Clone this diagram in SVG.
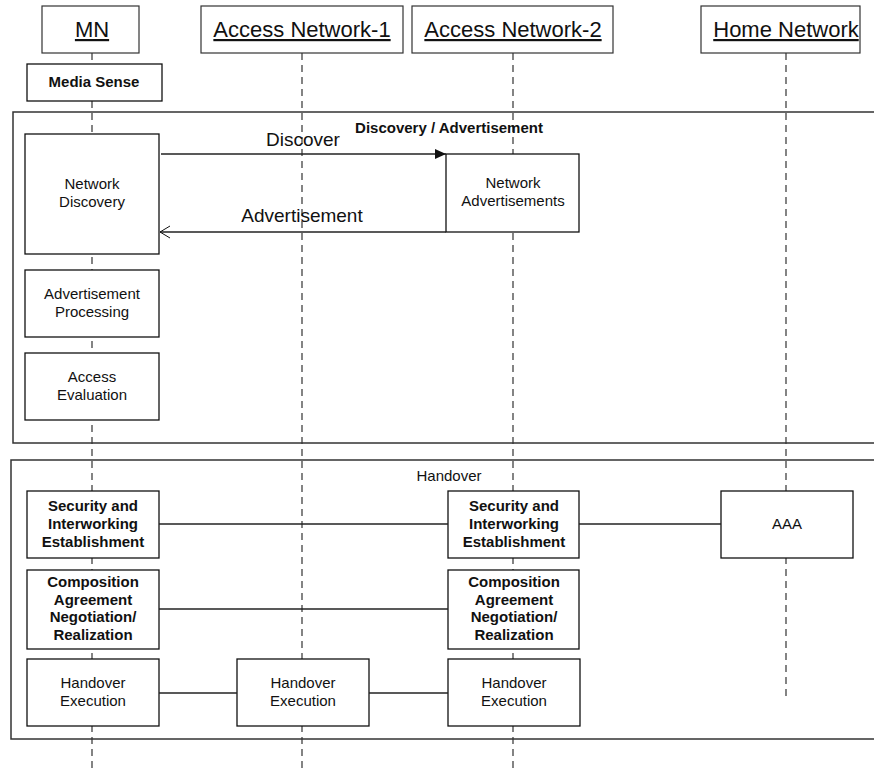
<svg xmlns="http://www.w3.org/2000/svg" width="874" height="772" viewBox="0 0 874 772">
  <defs>
    <style>
      .hdr { fill: #fff; stroke: #333; stroke-width: 1.2; }
      .box { fill: #fff; stroke: #111; stroke-width: 1.3; }
      .frame { fill: none; stroke: #333; stroke-width: 1.5; }
      .life { stroke: #333; stroke-width: 1.2; stroke-dasharray: 7 5; fill: none; }
      .link { stroke: #222; stroke-width: 1.3; fill: none; }
      text { font-family: "Liberation Sans", Arial, sans-serif; fill: #111; text-anchor: middle; }
      .ht { font-size: 22px; text-decoration: underline; }
      .t { font-size: 15px; }
      .b { font-size: 15px; font-weight: bold; }
      .msg { font-size: 19px; }
    </style>
    <marker id="solidHead" markerWidth="12" markerHeight="10" refX="11" refY="5" orient="auto" markerUnits="userSpaceOnUse">
      <path d="M0,0 L11,5 L0,10 Z" fill="#111"/>
    </marker>
    <marker id="openHead" markerWidth="12" markerHeight="14" refX="11" refY="7" orient="auto" markerUnits="userSpaceOnUse">
      <path d="M1,1 L11,7 L1,13" fill="none" stroke="#111" stroke-width="1"/>
    </marker>
  </defs>

  <rect width="874" height="772" fill="#fff"/>

  <!-- lifelines -->
  <g id="lifelines">
    <line class="life" x1="92" y1="53" x2="92" y2="772"/>
    <line class="life" x1="302" y1="53" x2="302" y2="772"/>
    <line class="life" x1="513" y1="53" x2="513" y2="772"/>
    <line class="life" x1="786" y1="53" x2="786" y2="697"/>
  </g>

  <!-- phase frames -->
  <g id="frame-discovery">
    <rect class="frame" x="13" y="112" width="880" height="331"/>
    <text class="b" x="449" y="133">Discovery / Advertisement</text>
  </g>
  <g id="frame-handover">
    <rect class="frame" x="11" y="460" width="880" height="279"/>
    <text class="t" x="449" y="481">Handover</text>
  </g>

  <!-- participants -->
  <g id="hdr-mn">
    <rect class="hdr" x="42" y="6" width="97" height="47"/>
    <text class="ht" x="92" y="37">MN</text>
  </g>
  <g id="hdr-an1">
    <rect class="hdr" x="201" y="6" width="202" height="47"/>
    <text class="ht" x="302" y="37">Access Network-1</text>
  </g>
  <g id="hdr-an2">
    <rect class="hdr" x="412" y="6" width="201" height="47"/>
    <text class="ht" x="513" y="37">Access Network-2</text>
  </g>
  <g id="hdr-home">
    <rect class="hdr" x="701" y="6" width="159" height="47"/>
    <text class="ht" x="786" y="37">Home Network</text>
  </g>

  <!-- MN activities -->
  <g id="media-sense">
    <rect class="box" x="27" y="64" width="135" height="37"/>
    <text class="b" x="94" y="87" font-size="14">Media Sense</text>
  </g>
  <g id="network-discovery">
    <rect class="box" x="25" y="134" width="134" height="120"/>
    <text class="t" x="92" y="189">Network</text>
    <text class="t" x="92" y="207">Discovery</text>
  </g>
  <g id="network-advertisements">
    <rect class="box" x="446" y="154" width="133" height="78"/>
    <text class="t" x="513" y="188">Network</text>
    <text class="t" x="513" y="206">Advertisements</text>
  </g>
  <g id="advertisement-processing">
    <rect class="box" x="25" y="270" width="134" height="67"/>
    <text class="t" x="92" y="299">Advertisement</text>
    <text class="t" x="92" y="317">Processing</text>
  </g>
  <g id="access-evaluation">
    <rect class="box" x="25" y="353" width="134" height="67"/>
    <text class="t" x="92" y="382">Access</text>
    <text class="t" x="92" y="400">Evaluation</text>
  </g>

  <!-- handover activities -->
  <g id="security-mn">
    <rect class="box" x="27" y="491" width="132" height="67"/>
    <text class="b" x="93" y="511">Security and</text>
    <text class="b" x="93" y="529">Interworking</text>
    <text class="b" x="93" y="547">Establishment</text>
  </g>
  <g id="security-an2">
    <rect class="box" x="448" y="491" width="131" height="67"/>
    <text class="b" x="514" y="511">Security and</text>
    <text class="b" x="514" y="529">Interworking</text>
    <text class="b" x="514" y="547">Establishment</text>
  </g>
  <g id="aaa">
    <rect class="box" x="721" y="491" width="132" height="67"/>
    <text class="t" x="787" y="529">AAA</text>
  </g>
  <g id="composition-mn">
    <rect class="box" x="27" y="570" width="132" height="79"/>
    <text class="b" x="93" y="587">Composition</text>
    <text class="b" x="93" y="605">Agreement</text>
    <text class="b" x="93" y="622">Negotiation/</text>
    <text class="b" x="93" y="640">Realization</text>
  </g>
  <g id="composition-an2">
    <rect class="box" x="448" y="570" width="131" height="79"/>
    <text class="b" x="514" y="587">Composition</text>
    <text class="b" x="514" y="605">Agreement</text>
    <text class="b" x="514" y="622">Negotiation/</text>
    <text class="b" x="514" y="640">Realization</text>
  </g>
  <g id="execution-mn">
    <rect class="box" x="27" y="659" width="132" height="67"/>
    <text class="t" x="93" y="688">Handover</text>
    <text class="t" x="93" y="706">Execution</text>
  </g>
  <g id="execution-an1">
    <rect class="box" x="237" y="659" width="132" height="67"/>
    <text class="t" x="303" y="688">Handover</text>
    <text class="t" x="303" y="706">Execution</text>
  </g>
  <g id="execution-an2">
    <rect class="box" x="448" y="659" width="132" height="67"/>
    <text class="t" x="514" y="688">Handover</text>
    <text class="t" x="514" y="706">Execution</text>
  </g>

  <!-- connectors -->
  <g id="connectors">
    <line class="link" x1="161" y1="154" x2="446" y2="154" marker-end="url(#solidHead)"/>
    <text class="msg" x="303" y="146">Discover</text>
    <line class="link" x1="446" y1="232" x2="160" y2="232" marker-end="url(#openHead)"/>
    <text class="msg" x="302" y="222">Advertisement</text>
    <line class="link" x1="159" y1="524" x2="448" y2="524"/>
    <line class="link" x1="579" y1="524" x2="721" y2="524"/>
    <line class="link" x1="159" y1="609" x2="448" y2="609"/>
    <line class="link" x1="159" y1="693" x2="237" y2="693"/>
    <line class="link" x1="369" y1="693" x2="448" y2="693"/>
  </g>
</svg>
